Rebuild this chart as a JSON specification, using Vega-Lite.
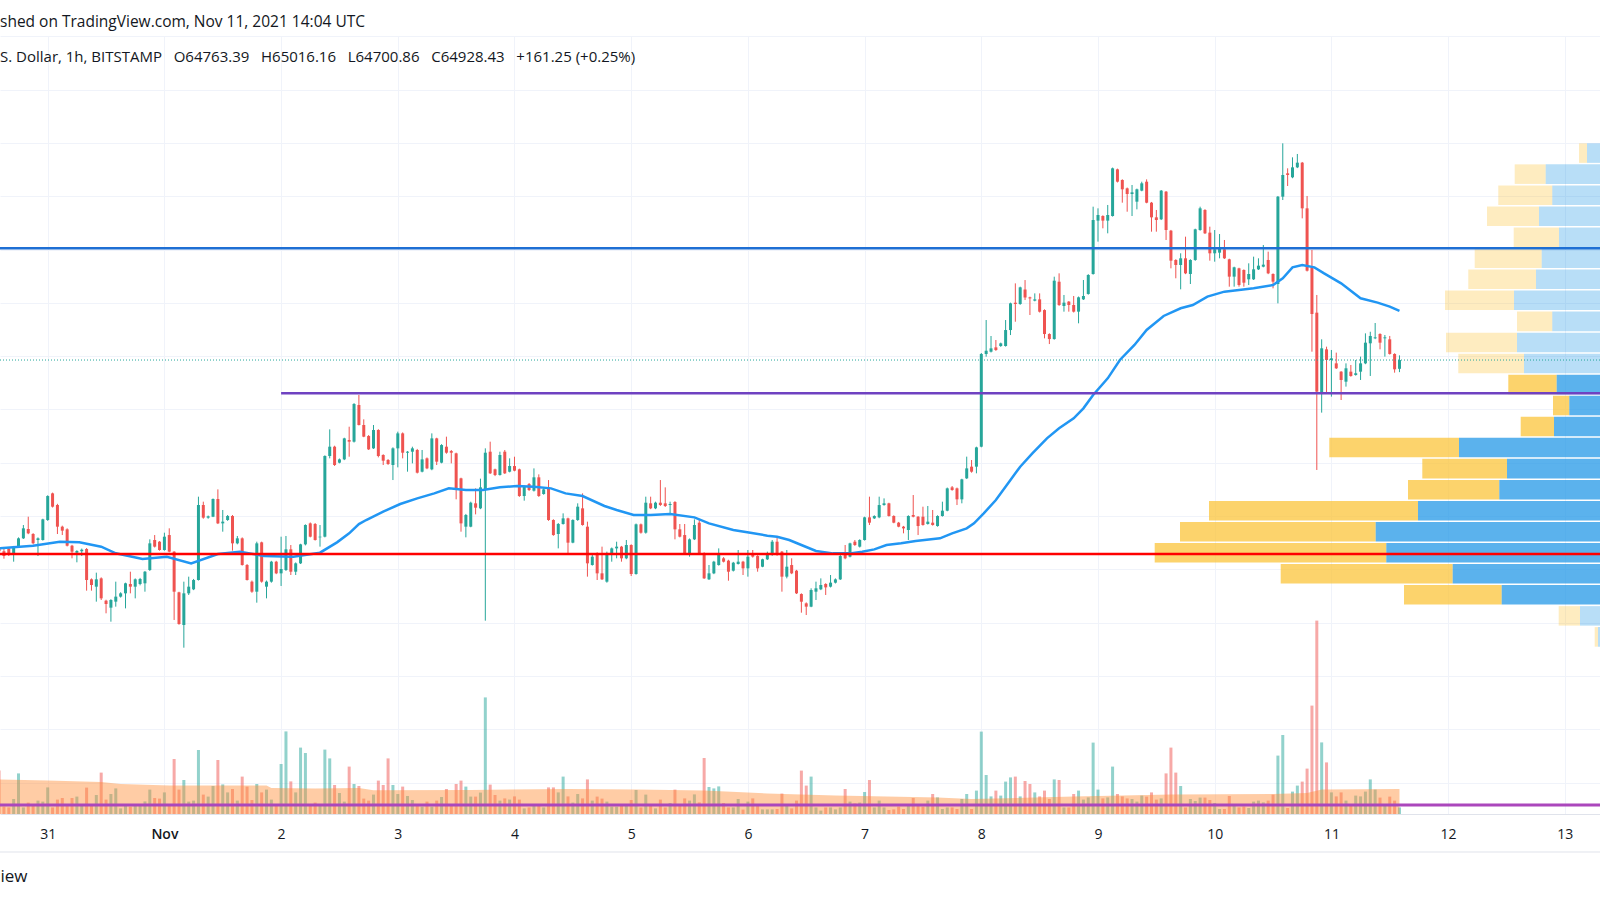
{
"$schema":"https://vega.github.io/schema/vega-lite/v6.json",
"width":1600,"height":778,
"autosize":"none",
"padding":{"left":0,"right":0,"top":36,"bottom":86},
"background":"#ffffff",
"config":{"view":{"stroke":null},"font":"Open Sans"},
"title":{"text":"shed on TradingView.com, Nov 11, 2021 14:04 UTC","subtitle":"S. Dollar, 1h, BITSTAMP\u00a0\u00a0 O64763.39\u00a0\u00a0 H65016.16\u00a0\u00a0 L64700.86\u00a0\u00a0 C64928.43\u00a0\u00a0 +161.25 (+0.25%)","anchor":"start","frame":"group","orient":"top","offset":-29,"font":"Open Sans","fontSize":15.5,"fontWeight":"normal","color":"#131722","subtitleFont":"Open Sans","subtitleFontSize":15,"subtitleColor":"#131722","subtitlePadding":20},
"datasets":{
"candles":[
{"t":"2021-10-30T14:00Z","o":61420,"hi":61480,"lo":61300,"c":61340,"v":217},
{"t":"2021-10-30T15:00Z","o":61340,"hi":61420,"lo":61200,"c":61250,"v":37},
{"t":"2021-10-30T16:00Z","o":61390,"hi":61420,"lo":61250,"c":61270,"v":33},
{"t":"2021-10-30T17:00Z","o":61269,"hi":61440,"lo":61144,"c":61426,"v":75},
{"t":"2021-10-30T18:00Z","o":61426,"hi":61600,"lo":61410,"c":61582,"v":203},
{"t":"2021-10-30T19:00Z","o":61582,"hi":61832,"lo":61570,"c":61770,"v":33},
{"t":"2021-10-30T20:00Z","o":61757,"hi":61988,"lo":61660,"c":61676,"v":57},
{"t":"2021-10-30T21:00Z","o":61663,"hi":61680,"lo":61470,"c":61488,"v":42},
{"t":"2021-10-30T22:00Z","o":61551,"hi":61600,"lo":61250,"c":61582,"v":67},
{"t":"2021-10-30T23:00Z","o":61551,"hi":61950,"lo":61540,"c":61938,"v":62},
{"t":"2021-10-31T00:00Z","o":61926,"hi":62390,"lo":61910,"c":62376,"v":133},
{"t":"2021-10-31T01:00Z","o":62426,"hi":62440,"lo":62160,"c":62176,"v":33},
{"t":"2021-10-31T02:00Z","o":62208,"hi":62230,"lo":61663,"c":61801,"v":72},
{"t":"2021-10-31T03:00Z","o":61801,"hi":61820,"lo":61644,"c":61726,"v":80},
{"t":"2021-10-31T04:00Z","o":61751,"hi":61770,"lo":61430,"c":61444,"v":50},
{"t":"2021-10-31T05:00Z","o":61444,"hi":61460,"lo":61207,"c":61332,"v":80},
{"t":"2021-10-31T06:00Z","o":61313,"hi":61360,"lo":61132,"c":61344,"v":87},
{"t":"2021-10-31T07:00Z","o":61340,"hi":61390,"lo":61250,"c":61369,"v":42},
{"t":"2021-10-31T08:00Z","o":61382,"hi":61400,"lo":60600,"c":60800,"v":132},
{"t":"2021-10-31T09:00Z","o":60813,"hi":60830,"lo":60600,"c":60706,"v":50},
{"t":"2021-10-31T10:00Z","o":60675,"hi":60938,"lo":60394,"c":60813,"v":95},
{"t":"2021-10-31T11:00Z","o":60831,"hi":60850,"lo":60425,"c":60456,"v":207},
{"t":"2021-10-31T12:00Z","o":60412,"hi":60430,"lo":60175,"c":60350,"v":72},
{"t":"2021-10-31T13:00Z","o":60281,"hi":60440,"lo":60018,"c":60425,"v":100},
{"t":"2021-10-31T14:00Z","o":60394,"hi":60769,"lo":60300,"c":60488,"v":128},
{"t":"2021-10-31T15:00Z","o":60488,"hi":60570,"lo":60470,"c":60550,"v":28},
{"t":"2021-10-31T16:00Z","o":60550,"hi":60750,"lo":60268,"c":60738,"v":42},
{"t":"2021-10-31T17:00Z","o":60725,"hi":60956,"lo":60550,"c":60675,"v":37},
{"t":"2021-10-31T18:00Z","o":60675,"hi":60830,"lo":60456,"c":60813,"v":42},
{"t":"2021-10-31T19:00Z","o":60725,"hi":60840,"lo":60700,"c":60819,"v":50},
{"t":"2021-10-31T20:00Z","o":60738,"hi":60970,"lo":60581,"c":60956,"v":63},
{"t":"2021-10-31T21:00Z","o":60988,"hi":61563,"lo":60970,"c":61488,"v":122},
{"t":"2021-10-31T22:00Z","o":61551,"hi":61644,"lo":61410,"c":61426,"v":80},
{"t":"2021-10-31T23:00Z","o":61519,"hi":61530,"lo":61350,"c":61363,"v":77},
{"t":"2021-11-01T00:00Z","o":61363,"hi":61688,"lo":61350,"c":61613,"v":108},
{"t":"2021-11-01T01:00Z","o":61644,"hi":61770,"lo":61320,"c":61332,"v":42},
{"t":"2021-11-01T02:00Z","o":61332,"hi":61340,"lo":60050,"c":60581,"v":275},
{"t":"2021-11-01T03:00Z","o":60569,"hi":60580,"lo":59960,"c":59974,"v":122},
{"t":"2021-11-01T04:00Z","o":59956,"hi":60769,"lo":59530,"c":60550,"v":170},
{"t":"2021-11-01T05:00Z","o":60550,"hi":60863,"lo":60519,"c":60675,"v":62},
{"t":"2021-11-01T06:00Z","o":60625,"hi":60820,"lo":60610,"c":60800,"v":67},
{"t":"2021-11-01T07:00Z","o":60800,"hi":62364,"lo":60790,"c":62208,"v":320},
{"t":"2021-11-01T08:00Z","o":62208,"hi":62270,"lo":61950,"c":61970,"v":97},
{"t":"2021-11-01T09:00Z","o":61970,"hi":62010,"lo":61950,"c":61995,"v":87},
{"t":"2021-11-01T10:00Z","o":61988,"hi":62330,"lo":61980,"c":62320,"v":140},
{"t":"2021-11-01T11:00Z","o":62320,"hi":62501,"lo":61850,"c":61863,"v":270},
{"t":"2021-11-01T12:00Z","o":61863,"hi":62114,"lo":61707,"c":61895,"v":148},
{"t":"2021-11-01T13:00Z","o":61926,"hi":62020,"lo":61910,"c":62001,"v":108},
{"t":"2021-11-01T14:00Z","o":62001,"hi":62020,"lo":61351,"c":61488,"v":125},
{"t":"2021-11-01T15:00Z","o":61488,"hi":61626,"lo":61470,"c":61582,"v":67},
{"t":"2021-11-01T16:00Z","o":61582,"hi":61600,"lo":61070,"c":61082,"v":187},
{"t":"2021-11-01T17:00Z","o":61082,"hi":61100,"lo":60790,"c":60800,"v":137},
{"t":"2021-11-01T18:00Z","o":60769,"hi":60790,"lo":60560,"c":60581,"v":70},
{"t":"2021-11-01T19:00Z","o":60581,"hi":61519,"lo":60375,"c":61488,"v":150},
{"t":"2021-11-01T20:00Z","o":61507,"hi":61520,"lo":60750,"c":60769,"v":108},
{"t":"2021-11-01T21:00Z","o":60675,"hi":60790,"lo":60456,"c":60769,"v":122},
{"t":"2021-11-01T22:00Z","o":60769,"hi":61160,"lo":60750,"c":61144,"v":72},
{"t":"2021-11-01T23:00Z","o":61144,"hi":61160,"lo":60910,"c":60925,"v":42},
{"t":"2021-11-02T00:00Z","o":60925,"hi":61613,"lo":60688,"c":61007,"v":250},
{"t":"2021-11-02T01:00Z","o":60988,"hi":61626,"lo":60970,"c":61376,"v":413},
{"t":"2021-11-02T02:00Z","o":61376,"hi":61457,"lo":60894,"c":60956,"v":163},
{"t":"2021-11-02T03:00Z","o":60956,"hi":61130,"lo":60894,"c":61113,"v":108},
{"t":"2021-11-02T04:00Z","o":61113,"hi":61480,"lo":61100,"c":61469,"v":332},
{"t":"2021-11-02T05:00Z","o":61469,"hi":61845,"lo":61450,"c":61832,"v":305},
{"t":"2021-11-02T06:00Z","o":61863,"hi":61880,"lo":61600,"c":61613,"v":42},
{"t":"2021-11-02T07:00Z","o":61851,"hi":61870,"lo":61540,"c":61551,"v":57},
{"t":"2021-11-02T08:00Z","o":61601,"hi":61832,"lo":61426,"c":61613,"v":42},
{"t":"2021-11-02T09:00Z","o":61613,"hi":63140,"lo":61600,"c":63127,"v":322},
{"t":"2021-11-02T10:00Z","o":63127,"hi":63627,"lo":63083,"c":63302,"v":278},
{"t":"2021-11-02T11:00Z","o":63302,"hi":63320,"lo":62940,"c":62958,"v":145},
{"t":"2021-11-02T12:00Z","o":63002,"hi":63080,"lo":62990,"c":63064,"v":105},
{"t":"2021-11-02T13:00Z","o":63064,"hi":63470,"lo":63050,"c":63458,"v":62},
{"t":"2021-11-02T14:00Z","o":63427,"hi":63677,"lo":63114,"c":63396,"v":237},
{"t":"2021-11-02T15:00Z","o":63396,"hi":64120,"lo":63380,"c":64103,"v":150},
{"t":"2021-11-02T16:00Z","o":64084,"hi":64272,"lo":63700,"c":63709,"v":140},
{"t":"2021-11-02T17:00Z","o":63709,"hi":63815,"lo":63480,"c":63490,"v":77},
{"t":"2021-11-02T18:00Z","o":63502,"hi":63520,"lo":63240,"c":63252,"v":67},
{"t":"2021-11-02T19:00Z","o":63271,"hi":63709,"lo":63260,"c":63615,"v":97},
{"t":"2021-11-02T20:00Z","o":63615,"hi":63630,"lo":63102,"c":63127,"v":167},
{"t":"2021-11-02T21:00Z","o":63146,"hi":63160,"lo":62958,"c":63039,"v":145},
{"t":"2021-11-02T22:00Z","o":63052,"hi":63070,"lo":62960,"c":62977,"v":278},
{"t":"2021-11-02T23:00Z","o":62958,"hi":63290,"lo":62676,"c":63271,"v":145},
{"t":"2021-11-03T00:00Z","o":63271,"hi":63584,"lo":62914,"c":63552,"v":100},
{"t":"2021-11-03T01:00Z","o":63552,"hi":63570,"lo":63083,"c":63189,"v":137},
{"t":"2021-11-03T02:00Z","o":63189,"hi":63220,"lo":62833,"c":63208,"v":90},
{"t":"2021-11-03T03:00Z","o":63208,"hi":63302,"lo":62989,"c":63271,"v":70},
{"t":"2021-11-03T04:00Z","o":63240,"hi":63260,"lo":62800,"c":62814,"v":42},
{"t":"2021-11-03T05:00Z","o":62833,"hi":63240,"lo":62820,"c":63064,"v":37},
{"t":"2021-11-03T06:00Z","o":63083,"hi":63100,"lo":62880,"c":62895,"v":62},
{"t":"2021-11-03T07:00Z","o":62877,"hi":63552,"lo":62860,"c":63458,"v":37},
{"t":"2021-11-03T08:00Z","o":63458,"hi":63470,"lo":62958,"c":63021,"v":67},
{"t":"2021-11-03T09:00Z","o":63002,"hi":63350,"lo":62990,"c":63333,"v":85},
{"t":"2021-11-03T10:00Z","o":63302,"hi":63490,"lo":63170,"c":63189,"v":125},
{"t":"2021-11-03T11:00Z","o":63220,"hi":63240,"lo":62989,"c":63189,"v":42},
{"t":"2021-11-03T12:00Z","o":63177,"hi":63190,"lo":62314,"c":62520,"v":150},
{"t":"2021-11-03T13:00Z","o":62708,"hi":62720,"lo":61707,"c":61863,"v":167},
{"t":"2021-11-03T14:00Z","o":61801,"hi":62040,"lo":61601,"c":62020,"v":137},
{"t":"2021-11-03T15:00Z","o":61801,"hi":62270,"lo":61790,"c":62251,"v":87},
{"t":"2021-11-03T16:00Z","o":62239,"hi":62520,"lo":62032,"c":62157,"v":87},
{"t":"2021-11-03T17:00Z","o":62145,"hi":62702,"lo":62130,"c":62539,"v":107},
{"t":"2021-11-03T18:00Z","o":62489,"hi":63271,"lo":60037,"c":63189,"v":583},
{"t":"2021-11-03T19:00Z","o":63208,"hi":63396,"lo":62790,"c":62802,"v":147},
{"t":"2021-11-03T20:00Z","o":62877,"hi":62890,"lo":62750,"c":62770,"v":95},
{"t":"2021-11-03T21:00Z","o":62770,"hi":63208,"lo":62760,"c":63146,"v":67},
{"t":"2021-11-03T22:00Z","o":63208,"hi":63240,"lo":62790,"c":62802,"v":78},
{"t":"2021-11-03T23:00Z","o":62833,"hi":63083,"lo":62820,"c":62939,"v":72},
{"t":"2021-11-04T00:00Z","o":62939,"hi":63114,"lo":62840,"c":62852,"v":88},
{"t":"2021-11-04T01:00Z","o":62877,"hi":62890,"lo":62360,"c":62376,"v":72},
{"t":"2021-11-04T02:00Z","o":62376,"hi":62570,"lo":62289,"c":62551,"v":28},
{"t":"2021-11-04T03:00Z","o":62601,"hi":62620,"lo":62470,"c":62489,"v":33},
{"t":"2021-11-04T04:00Z","o":62476,"hi":62895,"lo":62460,"c":62727,"v":42},
{"t":"2021-11-04T05:00Z","o":62727,"hi":62783,"lo":62360,"c":62376,"v":50},
{"t":"2021-11-04T06:00Z","o":62414,"hi":62520,"lo":62400,"c":62501,"v":33},
{"t":"2021-11-04T07:00Z","o":62539,"hi":62676,"lo":61910,"c":61926,"v":133},
{"t":"2021-11-04T08:00Z","o":61926,"hi":61940,"lo":61630,"c":61644,"v":133},
{"t":"2021-11-04T09:00Z","o":61663,"hi":61870,"lo":61394,"c":61851,"v":108},
{"t":"2021-11-04T10:00Z","o":61851,"hi":62051,"lo":61840,"c":61957,"v":187},
{"t":"2021-11-04T11:00Z","o":61957,"hi":61970,"lo":61301,"c":61501,"v":88},
{"t":"2021-11-04T12:00Z","o":61501,"hi":61940,"lo":61490,"c":61926,"v":57},
{"t":"2021-11-04T13:00Z","o":61926,"hi":62239,"lo":61910,"c":62176,"v":100},
{"t":"2021-11-04T14:00Z","o":62145,"hi":62426,"lo":61820,"c":61832,"v":78},
{"t":"2021-11-04T15:00Z","o":61801,"hi":61895,"lo":60863,"c":61113,"v":173},
{"t":"2021-11-04T16:00Z","o":61082,"hi":61301,"lo":61070,"c":61238,"v":67},
{"t":"2021-11-04T17:00Z","o":61301,"hi":61320,"lo":60800,"c":60925,"v":87},
{"t":"2021-11-04T18:00Z","o":60925,"hi":61426,"lo":60800,"c":60813,"v":77},
{"t":"2021-11-04T19:00Z","o":60769,"hi":61332,"lo":60750,"c":61301,"v":62},
{"t":"2021-11-04T20:00Z","o":61301,"hi":61410,"lo":61144,"c":61394,"v":37},
{"t":"2021-11-04T21:00Z","o":61394,"hi":61519,"lo":61207,"c":61426,"v":37},
{"t":"2021-11-04T22:00Z","o":61426,"hi":61440,"lo":61144,"c":61207,"v":50},
{"t":"2021-11-04T23:00Z","o":61207,"hi":61551,"lo":61190,"c":61457,"v":50},
{"t":"2021-11-05T00:00Z","o":61457,"hi":61470,"lo":60875,"c":60913,"v":70},
{"t":"2021-11-05T01:00Z","o":60913,"hi":61860,"lo":60900,"c":61845,"v":120},
{"t":"2021-11-05T02:00Z","o":61845,"hi":61860,"lo":61670,"c":61688,"v":33},
{"t":"2021-11-05T03:00Z","o":61688,"hi":62364,"lo":61670,"c":62251,"v":97},
{"t":"2021-11-05T04:00Z","o":62239,"hi":62364,"lo":62130,"c":62145,"v":42},
{"t":"2021-11-05T05:00Z","o":62145,"hi":62270,"lo":62130,"c":62251,"v":28},
{"t":"2021-11-05T06:00Z","o":62251,"hi":62676,"lo":62190,"c":62208,"v":72},
{"t":"2021-11-05T07:00Z","o":62239,"hi":62539,"lo":62170,"c":62189,"v":33},
{"t":"2021-11-05T08:00Z","o":62208,"hi":62270,"lo":62051,"c":62226,"v":55},
{"t":"2021-11-05T09:00Z","o":62264,"hi":62280,"lo":61563,"c":61751,"v":122},
{"t":"2021-11-05T10:00Z","o":61751,"hi":61851,"lo":61600,"c":61613,"v":42},
{"t":"2021-11-05T11:00Z","o":61644,"hi":61851,"lo":61290,"c":61301,"v":78},
{"t":"2021-11-05T12:00Z","o":61301,"hi":61580,"lo":61238,"c":61563,"v":67},
{"t":"2021-11-05T13:00Z","o":61563,"hi":61938,"lo":61550,"c":61832,"v":98},
{"t":"2021-11-05T14:00Z","o":61876,"hi":61926,"lo":61290,"c":61301,"v":58},
{"t":"2021-11-05T15:00Z","o":61301,"hi":61320,"lo":60820,"c":60831,"v":280},
{"t":"2021-11-05T16:00Z","o":60813,"hi":61082,"lo":60800,"c":60925,"v":135},
{"t":"2021-11-05T17:00Z","o":60925,"hi":61160,"lo":60910,"c":61144,"v":128},
{"t":"2021-11-05T18:00Z","o":61081,"hi":61394,"lo":61070,"c":61300,"v":138},
{"t":"2021-11-05T19:00Z","o":61207,"hi":61230,"lo":61130,"c":61144,"v":55},
{"t":"2021-11-05T20:00Z","o":61163,"hi":61180,"lo":60787,"c":60956,"v":33},
{"t":"2021-11-05T21:00Z","o":60975,"hi":61140,"lo":60960,"c":61125,"v":33},
{"t":"2021-11-05T22:00Z","o":61100,"hi":61363,"lo":61090,"c":61144,"v":75},
{"t":"2021-11-05T23:00Z","o":61144,"hi":61160,"lo":60894,"c":61019,"v":22},
{"t":"2021-11-06T00:00Z","o":61019,"hi":61363,"lo":60863,"c":61238,"v":62},
{"t":"2021-11-06T01:00Z","o":61269,"hi":61363,"lo":61220,"c":61238,"v":78},
{"t":"2021-11-06T02:00Z","o":61250,"hi":61265,"lo":60956,"c":61019,"v":50},
{"t":"2021-11-06T03:00Z","o":61050,"hi":61200,"lo":61040,"c":61188,"v":23},
{"t":"2021-11-06T04:00Z","o":61188,"hi":61332,"lo":61175,"c":61300,"v":23},
{"t":"2021-11-06T05:00Z","o":61269,"hi":61551,"lo":61255,"c":61519,"v":23},
{"t":"2021-11-06T06:00Z","o":61519,"hi":61601,"lo":61255,"c":61269,"v":25},
{"t":"2021-11-06T07:00Z","o":61332,"hi":61345,"lo":60581,"c":60863,"v":102},
{"t":"2021-11-06T08:00Z","o":60863,"hi":61363,"lo":60831,"c":61050,"v":50},
{"t":"2021-11-06T09:00Z","o":61081,"hi":61207,"lo":60910,"c":60925,"v":28},
{"t":"2021-11-06T10:00Z","o":60975,"hi":60990,"lo":60537,"c":60550,"v":67},
{"t":"2021-11-06T11:00Z","o":60537,"hi":60550,"lo":60187,"c":60393,"v":217},
{"t":"2021-11-06T12:00Z","o":60362,"hi":60380,"lo":60143,"c":60300,"v":142},
{"t":"2021-11-06T13:00Z","o":60300,"hi":60644,"lo":60290,"c":60612,"v":187},
{"t":"2021-11-06T14:00Z","o":60581,"hi":60769,"lo":60425,"c":60644,"v":33},
{"t":"2021-11-06T15:00Z","o":60625,"hi":60831,"lo":60610,"c":60706,"v":17},
{"t":"2021-11-06T16:00Z","o":60725,"hi":60740,"lo":60519,"c":60662,"v":33},
{"t":"2021-11-06T17:00Z","o":60675,"hi":60894,"lo":60660,"c":60750,"v":33},
{"t":"2021-11-06T18:00Z","o":60750,"hi":60830,"lo":60735,"c":60812,"v":23},
{"t":"2021-11-06T19:00Z","o":60812,"hi":61300,"lo":60800,"c":61250,"v":33},
{"t":"2021-11-06T20:00Z","o":61269,"hi":61457,"lo":61190,"c":61207,"v":125},
{"t":"2021-11-06T21:00Z","o":61238,"hi":61500,"lo":61225,"c":61488,"v":62},
{"t":"2021-11-06T22:00Z","o":61519,"hi":61551,"lo":61440,"c":61457,"v":53},
{"t":"2021-11-06T23:00Z","o":61426,"hi":61565,"lo":61410,"c":61551,"v":57},
{"t":"2021-11-07T00:00Z","o":61551,"hi":61988,"lo":61540,"c":61976,"v":110},
{"t":"2021-11-07T01:00Z","o":61976,"hi":62364,"lo":61832,"c":61876,"v":170},
{"t":"2021-11-07T02:00Z","o":61957,"hi":62015,"lo":61945,"c":62001,"v":33},
{"t":"2021-11-07T03:00Z","o":61976,"hi":62364,"lo":61960,"c":62207,"v":67},
{"t":"2021-11-07T04:00Z","o":62207,"hi":62332,"lo":62195,"c":62239,"v":33},
{"t":"2021-11-07T05:00Z","o":62239,"hi":62250,"lo":61990,"c":62001,"v":20},
{"t":"2021-11-07T06:00Z","o":62001,"hi":62015,"lo":61865,"c":61876,"v":23},
{"t":"2021-11-07T07:00Z","o":61876,"hi":61890,"lo":61790,"c":61801,"v":37},
{"t":"2021-11-07T08:00Z","o":61801,"hi":61815,"lo":61676,"c":61769,"v":25},
{"t":"2021-11-07T09:00Z","o":61738,"hi":62015,"lo":61551,"c":62001,"v":50},
{"t":"2021-11-07T10:00Z","o":62020,"hi":62395,"lo":61975,"c":61988,"v":80},
{"t":"2021-11-07T11:00Z","o":61988,"hi":62000,"lo":61644,"c":61813,"v":50},
{"t":"2021-11-07T12:00Z","o":61988,"hi":62176,"lo":61820,"c":61832,"v":37},
{"t":"2021-11-07T13:00Z","o":61851,"hi":62189,"lo":61840,"c":61895,"v":67},
{"t":"2021-11-07T14:00Z","o":61876,"hi":62114,"lo":61820,"c":61832,"v":100},
{"t":"2021-11-07T15:00Z","o":61813,"hi":62015,"lo":61801,"c":62001,"v":83},
{"t":"2021-11-07T16:00Z","o":62001,"hi":62270,"lo":61990,"c":62101,"v":25},
{"t":"2021-11-07T17:00Z","o":62101,"hi":62535,"lo":62090,"c":62520,"v":33},
{"t":"2021-11-07T18:00Z","o":62539,"hi":62564,"lo":62475,"c":62489,"v":33},
{"t":"2021-11-07T19:00Z","o":62520,"hi":62535,"lo":62207,"c":62314,"v":25},
{"t":"2021-11-07T20:00Z","o":62314,"hi":62700,"lo":62239,"c":62689,"v":75},
{"t":"2021-11-07T21:00Z","o":62708,"hi":63115,"lo":62695,"c":62895,"v":100},
{"t":"2021-11-07T22:00Z","o":62927,"hi":63052,"lo":62814,"c":62833,"v":25},
{"t":"2021-11-07T23:00Z","o":62927,"hi":63302,"lo":62802,"c":63289,"v":117},
{"t":"2021-11-08T00:00Z","o":63302,"hi":65060,"lo":63290,"c":65041,"v":412},
{"t":"2021-11-08T01:00Z","o":65041,"hi":65679,"lo":64991,"c":65103,"v":195},
{"t":"2021-11-08T02:00Z","o":65085,"hi":65379,"lo":65070,"c":65147,"v":88},
{"t":"2021-11-08T03:00Z","o":65166,"hi":65304,"lo":65100,"c":65116,"v":117},
{"t":"2021-11-08T04:00Z","o":65191,"hi":65255,"lo":65175,"c":65241,"v":92},
{"t":"2021-11-08T05:00Z","o":65191,"hi":65679,"lo":65180,"c":65491,"v":162},
{"t":"2021-11-08T06:00Z","o":65491,"hi":66005,"lo":65397,"c":65992,"v":183},
{"t":"2021-11-08T07:00Z","o":66004,"hi":66367,"lo":65647,"c":65979,"v":187},
{"t":"2021-11-08T08:00Z","o":65979,"hi":66305,"lo":65965,"c":66292,"v":88},
{"t":"2021-11-08T09:00Z","o":66254,"hi":66429,"lo":66054,"c":66104,"v":165},
{"t":"2021-11-08T10:00Z","o":66104,"hi":66117,"lo":65773,"c":66085,"v":150},
{"t":"2021-11-08T11:00Z","o":66042,"hi":66179,"lo":66030,"c":66067,"v":108},
{"t":"2021-11-08T12:00Z","o":66067,"hi":66179,"lo":65820,"c":65835,"v":88},
{"t":"2021-11-08T13:00Z","o":65866,"hi":65880,"lo":65335,"c":65416,"v":117},
{"t":"2021-11-08T14:00Z","o":65416,"hi":65430,"lo":65228,"c":65322,"v":75},
{"t":"2021-11-08T15:00Z","o":65322,"hi":66492,"lo":65310,"c":66417,"v":173},
{"t":"2021-11-08T16:00Z","o":66398,"hi":66555,"lo":65945,"c":65960,"v":170},
{"t":"2021-11-08T17:00Z","o":65942,"hi":66149,"lo":65836,"c":66005,"v":33},
{"t":"2021-11-08T18:00Z","o":66024,"hi":66035,"lo":65836,"c":65961,"v":33},
{"t":"2021-11-08T19:00Z","o":65961,"hi":66130,"lo":65820,"c":65836,"v":100},
{"t":"2021-11-08T20:00Z","o":65836,"hi":66120,"lo":65617,"c":66105,"v":117},
{"t":"2021-11-08T21:00Z","o":66067,"hi":66430,"lo":66055,"c":66130,"v":72},
{"t":"2021-11-08T22:00Z","o":66168,"hi":66540,"lo":66155,"c":66524,"v":83},
{"t":"2021-11-08T23:00Z","o":66543,"hi":67806,"lo":66530,"c":67556,"v":357},
{"t":"2021-11-09T00:00Z","o":67544,"hi":67775,"lo":67150,"c":67650,"v":122},
{"t":"2021-11-09T01:00Z","o":67631,"hi":67645,"lo":67400,"c":67544,"v":78},
{"t":"2021-11-09T02:00Z","o":67544,"hi":67838,"lo":67306,"c":67650,"v":83},
{"t":"2021-11-09T03:00Z","o":67631,"hi":68540,"lo":67620,"c":68526,"v":237},
{"t":"2021-11-09T04:00Z","o":68507,"hi":68520,"lo":68260,"c":68275,"v":100},
{"t":"2021-11-09T05:00Z","o":68307,"hi":68320,"lo":67881,"c":68132,"v":88},
{"t":"2021-11-09T06:00Z","o":68150,"hi":68165,"lo":67712,"c":68044,"v":78},
{"t":"2021-11-09T07:00Z","o":68044,"hi":68213,"lo":67631,"c":68075,"v":75},
{"t":"2021-11-09T08:00Z","o":67900,"hi":68145,"lo":67756,"c":68132,"v":62},
{"t":"2021-11-09T09:00Z","o":68107,"hi":68275,"lo":68095,"c":68244,"v":92},
{"t":"2021-11-09T10:00Z","o":68275,"hi":68319,"lo":67870,"c":67881,"v":87},
{"t":"2021-11-09T11:00Z","o":67881,"hi":67895,"lo":67337,"c":67606,"v":108},
{"t":"2021-11-09T12:00Z","o":67606,"hi":67744,"lo":67337,"c":67556,"v":72},
{"t":"2021-11-09T13:00Z","o":67569,"hi":68119,"lo":67555,"c":68107,"v":78},
{"t":"2021-11-09T14:00Z","o":68088,"hi":68100,"lo":67181,"c":67368,"v":203},
{"t":"2021-11-09T15:00Z","o":67356,"hi":67370,"lo":66649,"c":66793,"v":332},
{"t":"2021-11-09T16:00Z","o":66806,"hi":66820,"lo":66462,"c":66712,"v":207},
{"t":"2021-11-09T17:00Z","o":66712,"hi":66931,"lo":66255,"c":66837,"v":140},
{"t":"2021-11-09T18:00Z","o":66837,"hi":67243,"lo":66540,"c":66555,"v":33},
{"t":"2021-11-09T19:00Z","o":66543,"hi":66820,"lo":66355,"c":66806,"v":75},
{"t":"2021-11-09T20:00Z","o":66806,"hi":67393,"lo":66790,"c":67381,"v":65},
{"t":"2021-11-09T21:00Z","o":67368,"hi":67806,"lo":67355,"c":67775,"v":82},
{"t":"2021-11-09T22:00Z","o":67744,"hi":67760,"lo":67293,"c":67306,"v":82},
{"t":"2021-11-09T23:00Z","o":67319,"hi":67431,"lo":66793,"c":66931,"v":70},
{"t":"2021-11-10T00:00Z","o":66931,"hi":67368,"lo":66774,"c":67006,"v":55},
{"t":"2021-11-10T01:00Z","o":66943,"hi":67293,"lo":66837,"c":67024,"v":25},
{"t":"2021-11-10T02:00Z","o":67006,"hi":67181,"lo":66825,"c":66837,"v":25},
{"t":"2021-11-10T03:00Z","o":66818,"hi":66830,"lo":66305,"c":66493,"v":90},
{"t":"2021-11-10T04:00Z","o":66493,"hi":66680,"lo":66305,"c":66668,"v":50},
{"t":"2021-11-10T05:00Z","o":66649,"hi":66660,"lo":66305,"c":66336,"v":33},
{"t":"2021-11-10T06:00Z","o":66618,"hi":66630,"lo":66305,"c":66380,"v":38},
{"t":"2021-11-10T07:00Z","o":66443,"hi":66743,"lo":66336,"c":66543,"v":30},
{"t":"2021-11-10T08:00Z","o":66443,"hi":66868,"lo":66430,"c":66630,"v":62},
{"t":"2021-11-10T09:00Z","o":66630,"hi":66837,"lo":66618,"c":66699,"v":67},
{"t":"2021-11-10T10:00Z","o":66680,"hi":67087,"lo":66668,"c":66718,"v":58},
{"t":"2021-11-10T11:00Z","o":66806,"hi":66962,"lo":66540,"c":66555,"v":67},
{"t":"2021-11-10T12:00Z","o":66543,"hi":66555,"lo":66274,"c":66399,"v":97},
{"t":"2021-11-10T13:00Z","o":66355,"hi":68007,"lo":65992,"c":67994,"v":292},
{"t":"2021-11-10T14:00Z","o":67994,"hi":68995,"lo":67931,"c":68401,"v":395},
{"t":"2021-11-10T15:00Z","o":68432,"hi":68526,"lo":68194,"c":68401,"v":30},
{"t":"2021-11-10T16:00Z","o":68357,"hi":68732,"lo":68340,"c":68544,"v":112},
{"t":"2021-11-10T17:00Z","o":68544,"hi":68795,"lo":68530,"c":68632,"v":142},
{"t":"2021-11-10T18:00Z","o":68632,"hi":68645,"lo":67587,"c":67775,"v":162},
{"t":"2021-11-10T19:00Z","o":67775,"hi":68007,"lo":66590,"c":66605,"v":227},
{"t":"2021-11-10T20:00Z","o":66668,"hi":66993,"lo":65085,"c":65792,"v":542},
{"t":"2021-11-10T21:00Z","o":65817,"hi":66149,"lo":62865,"c":64335,"v":967},
{"t":"2021-11-10T22:00Z","o":64304,"hi":65317,"lo":63941,"c":65148,"v":358},
{"t":"2021-11-10T23:00Z","o":65129,"hi":65179,"lo":64304,"c":64929,"v":258},
{"t":"2021-11-11T00:00Z","o":64929,"hi":65117,"lo":64241,"c":64960,"v":108},
{"t":"2021-11-11T01:00Z","o":64866,"hi":65067,"lo":64760,"c":64773,"v":88},
{"t":"2021-11-11T02:00Z","o":64710,"hi":64720,"lo":64178,"c":64554,"v":108},
{"t":"2021-11-11T03:00Z","o":64522,"hi":64866,"lo":64429,"c":64773,"v":67},
{"t":"2021-11-11T04:00Z","o":64710,"hi":64835,"lo":64615,"c":64629,"v":42},
{"t":"2021-11-11T05:00Z","o":64648,"hi":64929,"lo":64635,"c":64680,"v":92},
{"t":"2021-11-11T06:00Z","o":64710,"hi":64992,"lo":64554,"c":64866,"v":88},
{"t":"2021-11-11T07:00Z","o":64866,"hi":65429,"lo":64850,"c":65254,"v":112},
{"t":"2021-11-11T08:00Z","o":65242,"hi":65459,"lo":64629,"c":65380,"v":173},
{"t":"2021-11-11T09:00Z","o":65336,"hi":65623,"lo":65320,"c":65354,"v":122},
{"t":"2021-11-11T10:00Z","o":65417,"hi":65430,"lo":65129,"c":65254,"v":82},
{"t":"2021-11-11T11:00Z","o":65336,"hi":65398,"lo":64992,"c":65354,"v":47},
{"t":"2021-11-11T12:00Z","o":65317,"hi":65380,"lo":65030,"c":65042,"v":87},
{"t":"2021-11-11T13:00Z","o":65042,"hi":65055,"lo":64691,"c":64754,"v":67},
{"t":"2021-11-11T14:00Z","o":64763.39,"hi":65016.16,"lo":64700.86,"c":64928.43,"v":33}
],
"ma":[
{"t":"2021-10-30T14:00Z","p":61394},{"t":"2021-10-30T21:00Z","p":61444},{"t":"2021-10-31T02:30Z","p":61519},{"t":"2021-10-31T06:30Z","p":61507},{"t":"2021-10-31T11:00Z","p":61426},{"t":"2021-10-31T14:00Z","p":61301},{"t":"2021-10-31T19:30Z","p":61194},{"t":"2021-11-01T00:30Z","p":61238},{"t":"2021-11-01T05:30Z","p":61113},{"t":"2021-11-01T11:00Z","p":61288},{"t":"2021-11-01T15:30Z","p":61332},{"t":"2021-11-01T20:30Z","p":61250},{"t":"2021-11-02T02:30Z","p":61238},{"t":"2021-11-02T08:00Z","p":61313},{"t":"2021-11-02T11:30Z","p":61507},{"t":"2021-11-02T14:00Z","p":61676},{"t":"2021-11-02T16:00Z","p":61850},{"t":"2021-11-02T17:30Z","p":61926},{"t":"2021-11-02T21:00Z","p":62083},{"t":"2021-11-03T00:30Z","p":62226},{"t":"2021-11-03T04:00Z","p":62333},{"t":"2021-11-03T07:30Z","p":62426},{"t":"2021-11-03T10:30Z","p":62520},{"t":"2021-11-03T14:00Z","p":62489},{"t":"2021-11-03T17:30Z","p":62489},{"t":"2021-11-03T21:00Z","p":62539},{"t":"2021-11-04T00:30Z","p":62564},{"t":"2021-11-04T04:00Z","p":62551},{"t":"2021-11-04T07:30Z","p":62520},{"t":"2021-11-04T10:30Z","p":62426},{"t":"2021-11-04T14:00Z","p":62376},{"t":"2021-11-04T18:30Z","p":62189},{"t":"2021-11-04T21:00Z","p":62114},{"t":"2021-11-05T00:30Z","p":62020},{"t":"2021-11-05T04:00Z","p":62020},{"t":"2021-11-05T08:00Z","p":62039},{"t":"2021-11-05T13:00Z","p":61976},{"t":"2021-11-05T16:00Z","p":61863},{"t":"2021-11-05T21:00Z","p":61738},{"t":"2021-11-06T00:30Z","p":61688},{"t":"2021-11-06T04:00Z","p":61632},{"t":"2021-11-06T06:00Z","p":61613},{"t":"2021-11-06T08:30Z","p":61551},{"t":"2021-11-06T11:30Z","p":61438},{"t":"2021-11-06T14:00Z","p":61344},{"t":"2021-11-06T17:30Z","p":61300},{"t":"2021-11-06T21:00Z","p":61300},{"t":"2021-11-06T23:30Z","p":61332},{"t":"2021-11-07T02:00Z","p":61375},{"t":"2021-11-07T04:30Z","p":61457},{"t":"2021-11-07T07:30Z","p":61488},{"t":"2021-11-07T10:30Z","p":61532},{"t":"2021-11-07T15:30Z","p":61582},{"t":"2021-11-07T18:00Z","p":61676},{"t":"2021-11-07T21:00Z","p":61769},{"t":"2021-11-07T22:30Z","p":61863},{"t":"2021-11-08T00:30Z","p":62051},{"t":"2021-11-08T03:00Z","p":62301},{"t":"2021-11-08T06:00Z","p":62676},{"t":"2021-11-08T08:00Z","p":62927},{"t":"2021-11-08T10:30Z","p":63177},{"t":"2021-11-08T13:30Z","p":63458},{"t":"2021-11-08T16:00Z","p":63647},{"t":"2021-11-08T19:00Z","p":63834},{"t":"2021-11-08T21:00Z","p":64022},{"t":"2021-11-08T23:00Z","p":64272},{"t":"2021-11-09T02:00Z","p":64585},{"t":"2021-11-09T04:30Z","p":64929},{"t":"2021-11-09T07:30Z","p":65211},{"t":"2021-11-09T10:00Z","p":65492},{"t":"2021-11-09T13:30Z","p":65755},{"t":"2021-11-09T17:00Z","p":65899},{"t":"2021-11-09T19:30Z","p":65961},{"t":"2021-11-09T22:30Z","p":66118},{"t":"2021-11-10T02:00Z","p":66211},{"t":"2021-11-10T05:00Z","p":66243},{"t":"2021-11-10T08:00Z","p":66274},{"t":"2021-11-10T12:00Z","p":66336},{"t":"2021-11-10T14:00Z","p":66462},{"t":"2021-11-10T16:00Z","p":66668},{"t":"2021-11-10T18:00Z","p":66712},{"t":"2021-11-10T20:30Z","p":66668},{"t":"2021-11-10T22:30Z","p":66555},{"t":"2021-11-11T02:00Z","p":66368},{"t":"2021-11-11T06:00Z","p":66087},{"t":"2021-11-11T09:30Z","p":66005},{"t":"2021-11-11T12:00Z","p":65930},{"t":"2021-11-11T14:00Z","p":65849}
],
"vma":[
{"t":"2021-10-30T14:00Z","v":172},{"t":"2021-10-31T00:00Z","v":167},{"t":"2021-10-31T11:00Z","v":160},{"t":"2021-10-31T15:00Z","v":150},{"t":"2021-11-01T01:00Z","v":143},{"t":"2021-11-01T21:00Z","v":142},{"t":"2021-11-01T22:00Z","v":130},{"t":"2021-11-02T07:00Z","v":128},{"t":"2021-11-02T16:00Z","v":130},{"t":"2021-11-02T19:00Z","v":119},{"t":"2021-11-03T15:00Z","v":120},{"t":"2021-11-04T11:00Z","v":125},{"t":"2021-11-05T01:00Z","v":123},{"t":"2021-11-05T15:00Z","v":117},{"t":"2021-11-06T04:00Z","v":103},{"t":"2021-11-06T18:00Z","v":92},{"t":"2021-11-07T15:00Z","v":83},{"t":"2021-11-07T22:00Z","v":75},{"t":"2021-11-08T19:00Z","v":87},{"t":"2021-11-09T15:00Z","v":97},{"t":"2021-11-10T12:00Z","v":100},{"t":"2021-11-10T19:00Z","v":105},{"t":"2021-11-10T22:00Z","v":122},{"t":"2021-11-11T14:00Z","v":125}
],
"vp":[
{"hi":68995,"lo":68600,"tot":420,"up":260,"va":false},
{"hi":68600,"lo":68205,"tot":1706,"up":1086,"va":false},
{"hi":68205,"lo":67811,"tot":2034,"up":954,"va":false},
{"hi":67811,"lo":67416,"tot":2260,"up":1220,"va":false},
{"hi":67416,"lo":67021,"tot":1726,"up":820,"va":false},
{"hi":67021,"lo":66626,"tot":2506,"up":1166,"va":false},
{"hi":66626,"lo":66232,"tot":2634,"up":1280,"va":false},
{"hi":66232,"lo":65837,"tot":3100,"up":1720,"va":false},
{"hi":65837,"lo":65442,"tot":1660,"up":954,"va":false},
{"hi":65442,"lo":65047,"tot":3080,"up":1660,"va":false},
{"hi":65047,"lo":64653,"tot":2834,"up":1520,"va":false},
{"hi":64653,"lo":64258,"tot":1834,"up":866,"va":true},
{"hi":64258,"lo":63863,"tot":940,"up":614,"va":true},
{"hi":63863,"lo":63468,"tot":1586,"up":920,"va":true},
{"hi":63468,"lo":63074,"tot":5414,"up":2820,"va":true},
{"hi":63074,"lo":62679,"tot":3554,"up":1860,"va":true},
{"hi":62679,"lo":62284,"tot":3840,"up":2014,"va":true},
{"hi":62284,"lo":61889,"tot":7820,"up":3640,"va":true},
{"hi":61889,"lo":61495,"tot":8400,"up":4486,"va":true},
{"hi":61495,"lo":61100,"tot":8906,"up":4274,"va":true},
{"hi":61100,"lo":60705,"tot":6386,"up":2946,"va":true},
{"hi":60705,"lo":60310,"tot":3920,"up":1966,"va":true},
{"hi":60310,"lo":59916,"tot":826,"up":400,"va":false},
{"hi":59916,"lo":59521,"tot":106,"up":40,"va":false}
]
},
"layer":[
{
"layer":[
{"data":{"name":"candles"},"mark":{"type":"bar","width":3,"opacity":0.5},
 "encoding":{
  "x":{"field":"t","type":"temporal","scale":{"type":"utc","domain":[1635603084000,1636787664000],"nice":false,"padding":0},"axis":null},
  "y":{"field":"v","type":"quantitative","scale":{"domain":[0,3890],"nice":false,"zero":true,"padding":0},"axis":null},
  "color":{"condition":{"test":"datum.c >= datum.o","value":"#26a69a"},"value":"#ef5350"}}},
{"data":{"name":"vma"},"mark":{"type":"area","color":"#ff8e37","opacity":0.45},
 "encoding":{"x":{"field":"t","type":"temporal"},"y":{"field":"v","type":"quantitative"}}},
{"data":{"values":[{}]},"mark":{"type":"rule","color":"#ab47bc","strokeWidth":3},
 "encoding":{"y":{"datum":45}}}
]
},
{
"data":{"name":"vp"},
"layer":[
{"mark":{"type":"bar","y2Offset":-1.5},
 "encoding":{
  "y":{"field":"hi","type":"quantitative","scale":{"domain":[56409,71009],"nice":false,"zero":false,"padding":0},"axis":null},
  "y2":{"field":"lo"},
  "x":{"field":"tot","type":"quantitative","scale":{"domain":[0,32000],"reverse":true,"nice":false,"zero":false,"padding":0},"axis":null},
  "x2":{"field":"up"},
  "color":{"value":"#fbc02d"},
  "opacity":{"condition":{"test":"datum.va","value":0.7},"value":0.3}}},
{"mark":{"type":"bar","y2Offset":-1.5},
 "encoding":{
  "y":{"field":"hi","type":"quantitative"},
  "y2":{"field":"lo"},
  "x":{"field":"up","type":"quantitative"},
  "x2":{"datum":0},
  "color":{"value":"#1592e6"},
  "opacity":{"condition":{"test":"datum.va","value":0.7},"value":0.3}}}
]
},
{
"layer":[
{"data":{"name":"candles"},"mark":{"type":"rule","strokeWidth":1},
 "encoding":{
  "x":{"field":"t","type":"temporal","scale":{"type":"utc","domain":[1635603084000,1636787664000],"nice":false,"padding":0},
   "axis":{"orient":"bottom","values":[1635638400000,1635724800000,1635811200000,1635897600000,1635984000000,1636070400000,1636156800000,1636243200000,1636329600000,1636416000000,1636502400000,1636588800000,1636675200000,1636761600000],
    "labelExpr":"utcdate(datum.value) == 1 ? utcFormat(datum.value, '%b') : utcFormat(datum.value, '%-d')",
    "labelFont":"Open Sans","labelFontSize":14,"labelColor":"#131722","labelPadding":20,"labelBaseline":"middle",
    "labelFontWeight":{"condition":{"test":"utcdate(datum.value) == 1","value":600},"value":"normal"},
    "labelOverlap":false,"labelFlush":false,"ticks":false,"tickSize":0,
    "domain":true,"domainColor":"#e0e3eb","domainWidth":1,
    "grid":true,"gridColor":"#f0f3fa","gridWidth":1,
    "title":"iew","titleFont":"Open Sans","titleFontSize":17,"titleFontWeight":"normal","titleColor":"#131722","titleAnchor":"start","titleAlign":"left","titleBaseline":"middle","titleX":0,"titleY":62}},
  "y":{"field":"lo","type":"quantitative","scale":{"domain":[56409,71009],"nice":false,"zero":false,"padding":0},
   "axis":{"orient":"left","values":[57000,58000,59000,60000,61000,62000,63000,64000,65000,66000,67000,68000,69000,70000,71000],"labels":false,"ticks":false,"domain":false,"grid":true,"gridColor":"#f0f3fa","gridWidth":1,"title":null}},
  "y2":{"field":"hi"},
  "color":{"condition":{"test":"datum.c >= datum.o","value":"#26a69a"},"value":"#ef5350"}}},
{"data":{"name":"candles"},"mark":{"type":"bar","width":3},
 "encoding":{
  "x":{"field":"t","type":"temporal"},
  "y":{"field":"o","type":"quantitative"},
  "y2":{"field":"c"},
  "color":{"condition":{"test":"datum.c >= datum.o","value":"#26a69a"},"value":"#ef5350"}}},
{"data":{"name":"ma"},"mark":{"type":"line","color":"#2196f3","strokeWidth":2.5},
 "encoding":{"x":{"field":"t","type":"temporal"},"y":{"field":"p","type":"quantitative"}}},
{"data":{"values":[{}]},"mark":{"type":"rule","color":"#26a69a","strokeWidth":1,"strokeDash":[1,2]},
 "encoding":{"y":{"datum":64928.43}}},
{"data":{"values":[{}]},"mark":{"type":"rule","color":"#1e6fd4","strokeWidth":2.5},
 "encoding":{"y":{"datum":67028}}},
{"data":{"values":[{}]},"mark":{"type":"rule","color":"#ff0000","strokeWidth":2.5},
 "encoding":{"y":{"datum":61288}}},
{"data":{"values":[{}]},"mark":{"type":"rule","color":"#6f42c1","strokeWidth":2.5},
 "encoding":{"x":{"datum":1635811200000,"type":"temporal"},"x2":{"datum":1636900000000},"y":{"datum":64305}}},
{"data":{"values":[{}]},"mark":{"type":"rule","color":"#e0e3eb","strokeWidth":1},
 "encoding":{"y":{"datum":55696}}}
]
}
],
"resolve":{"scale":{"x":"independent","y":"independent"}}
}
